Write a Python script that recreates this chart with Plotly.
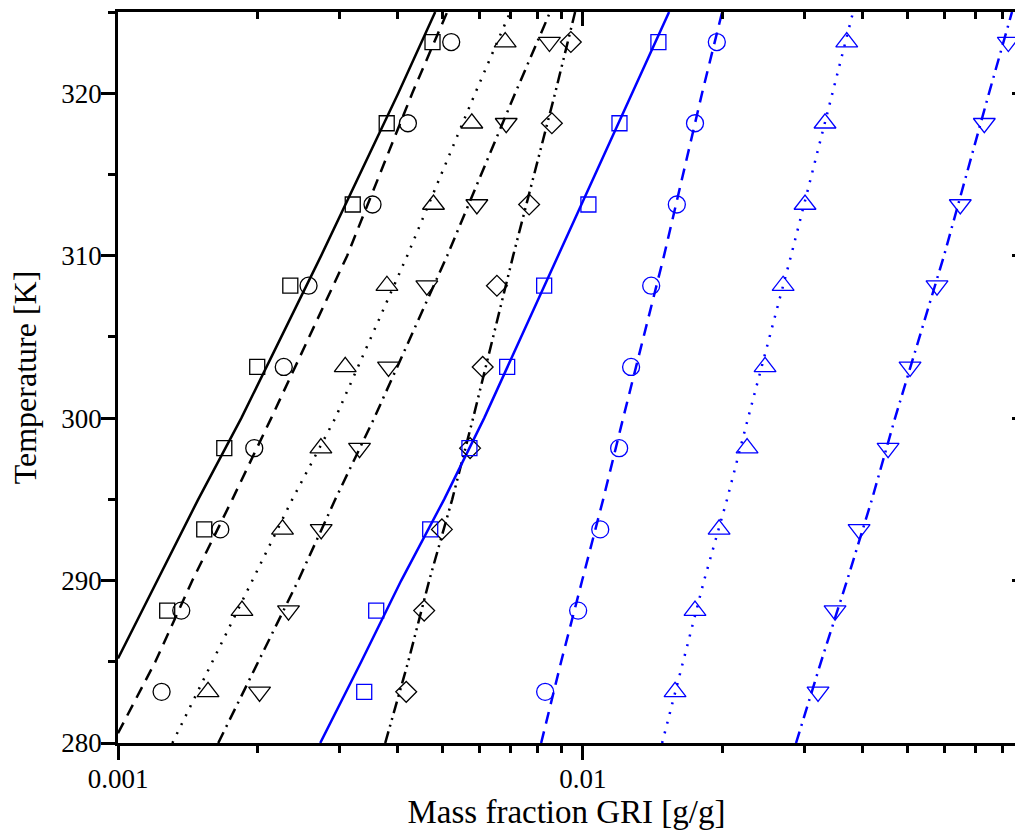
import plotly.graph_objects as go

# ---------------- data ----------------
T_exp = [283.15, 288.15, 293.15, 298.15, 303.15, 308.15, 313.15, 318.15, 323.15]

# black experimental series
blk_square = [None, 0.001276, 0.001533, 0.001693, 0.001993, 0.002348, 0.003199, 0.003785, 0.004749]
blk_circle = [0.001241, 0.001368, 0.001660, 0.001964, 0.002273, 0.002570, 0.003528, 0.004204, 0.005210]
blk_triup = [0.001562, 0.001848, 0.002259, 0.002732, 0.003082, 0.003789, 0.004772, 0.005770, 0.006807]
blk_tridn = [0.002016, 0.002327, 0.002736, 0.003308, 0.003819, 0.004618, 0.005916, 0.006841, 0.008475]
blk_diamond = [0.004169, 0.004557, 0.004975, 0.005721, 0.006089, 0.006533, 0.007664, 0.008578, 0.009423]

# blue experimental series
blu_square = [0.003386, 0.003593, 0.004695, 0.005702, 0.006874, 0.008256, 0.01028, 0.01199, 0.01454]
blu_circle = [0.008297, 0.009770, 0.01090, 0.01197, 0.01270, 0.01403, 0.01593, 0.01743, 0.01942]
blu_triup = [0.01579, 0.01743, 0.01964, 0.02256, 0.02466, 0.02697, 0.03006, 0.03319, 0.03696]
blu_tridn = [0.03206, 0.03488, 0.03929, 0.04536, 0.05057, 0.05780, 0.06486, 0.07306, 0.08229]

# model curves (temperature, mass fraction)
T_line = [280, 285, 290, 295, 300, 310, 320, 325]
blk_solid_T = [285.2, 290, 295, 300, 310, 320, 325]
blk_solid = [0.001000, 0.001215, 0.001488, 0.001842, 0.002736, 0.004008, 0.004813]
blk_dash_T = [280.6, 285, 290, 295, 300, 310, 320, 325]
blk_dash = [0.001000, 0.001203, 0.001445, 0.001762, 0.002136, 0.003112, 0.004295, 0.005108]
blk_dot = [0.001309, 0.001595, 0.001945, 0.002371, 0.002934, 0.004190, 0.005867, 0.006978]
blk_dashdot = [0.001643, 0.002003, 0.002442, 0.002934, 0.003558, 0.005108, 0.007152, 0.008504]
blk_dashdotdot = [0.003757, 0.004210, 0.004672, 0.005236, 0.005807, 0.007081, 0.008717, 0.009625]
blu_solid = [0.002723, 0.003336, 0.004067, 0.005031, 0.006134, 0.008848, 0.01276, 0.01533]
blu_dash = [0.008134, 0.008980, 0.009965, 0.01106, 0.01221, 0.01495, 0.01805, 0.01994]
blu_dot = [0.01481, 0.01643, 0.01823, 0.02043, 0.02267, 0.02805, 0.03437, 0.03814]
blu_dashdot = [0.02875, 0.03254, 0.03702, 0.04188, 0.04695, 0.05984, 0.07477, 0.08380]

x_major = [0.001, 0.01]
x_major_text = ["0.001", "0.01"]
x_minor = [0.002, 0.003, 0.004, 0.005, 0.006, 0.007, 0.008, 0.009,
           0.02, 0.03, 0.04, 0.05, 0.06, 0.07, 0.08]
y_major = [280, 290, 300, 310, 320]
y_minor = [285, 295, 305, 315, 325]

BLACK = "#000000"
BLUE = "#0000FF"
FONT = "Liberation Serif"

fig = go.Figure()

LW = 2.5
lines = [
    (blk_solid_T, blk_solid, BLACK, "solid"),
    (blk_dash_T, blk_dash, BLACK, "12px,8px"),
    (T_line, blk_dot, BLACK, "2px,8px"),
    (T_line, blk_dashdot, BLACK, "12px,6px,2px,6px"),
    (T_line, blk_dashdotdot, BLACK, "12px,5px,2px,5px,2px,5px"),
    (T_line, blu_solid, BLUE, "solid"),
    (T_line, blu_dash, BLUE, "12px,8px"),
    (T_line, blu_dot, BLUE, "2px,8px"),
    (T_line, blu_dashdot, BLUE, "12px,6px,2px,6px"),
]
for T, xv, col, dash in lines:
    fig.add_trace(go.Scatter(x=xv, y=T, mode="lines",
                             line=dict(color=col, width=LW, dash=dash),
                             showlegend=False, hoverinfo="skip"))

markers = [
    (blk_square, BLACK, "square-open", 15),
    (blk_circle, BLACK, "circle-open", 17),
    (blk_triup, BLACK, "triangle-up-open", 19),
    (blk_tridn, BLACK, "triangle-down-open", 19),
    (blk_diamond, BLACK, "diamond-open", 16),
    (blu_square, BLUE, "square-open", 15),
    (blu_circle, BLUE, "circle-open", 17),
    (blu_triup, BLUE, "triangle-up-open", 19),
    (blu_tridn, BLUE, "triangle-down-open", 19),
]
for xv, col, sym, sz in markers:
    fig.add_trace(go.Scatter(x=xv, y=T_exp, mode="markers",
                             marker=dict(symbol=sym, size=sz, color=col,
                                         line=dict(color=col, width=1.3)),
                             showlegend=False))

xr = [-3, -1.0703]
yr = [280, 325]

fig.update_layout(
    width=1015, height=830,
    margin=dict(l=118, r=0, t=12, b=87),
    paper_bgcolor="white", plot_bgcolor="white",
    font=dict(family=FONT, color="black", size=27),
    xaxis=dict(
        type="log", range=xr, showgrid=False, zeroline=False,
        showline=True, linecolor="black", linewidth=2.5,
        tickmode="array", tickvals=x_major, ticktext=x_major_text,
        ticks="outside", ticklen=14, tickwidth=2.5, tickcolor="black",
        tickfont=dict(size=27, family=FONT), ticklabelstandoff=-4,
        minor=dict(tickmode="array", tickvals=x_minor, ticks="outside",
                   ticklen=7, tickwidth=2.5, tickcolor="black", showgrid=False),
        title=dict(text="Mass fraction GRI [g/g]", font=dict(size=33, family=FONT), standoff=8),
    ),
    yaxis=dict(
        range=yr, showgrid=False, zeroline=False,
        showline=True, linecolor="black", linewidth=2.5,
        tickmode="array", tickvals=y_major,
        ticks="outside", ticklen=14, tickwidth=2.5, tickcolor="black",
        tickfont=dict(size=27, family=FONT), ticklabelstandoff=-6,
        minor=dict(tickmode="array", tickvals=y_minor, ticks="outside",
                   ticklen=7, tickwidth=2.5, tickcolor="black", showgrid=False),
        title=dict(text="Temperature [K]", font=dict(size=32, family=FONT), standoff=16),
    ),
    xaxis2=dict(
        type="log", range=xr, overlaying="x", side="top", anchor="y",
        showgrid=False, zeroline=False, showticklabels=False,
        showline=True, linecolor="black", linewidth=2.5,
        tickmode="array", tickvals=x_major,
        ticks="inside", ticklen=14, tickwidth=2.5, tickcolor="black",
        minor=dict(tickmode="array", tickvals=x_minor, ticks="inside",
                   ticklen=7, tickwidth=2.5, tickcolor="black", showgrid=False),
    ),
    yaxis2=dict(
        range=yr, overlaying="y", side="right", anchor="x",
        showgrid=False, zeroline=False, showticklabels=False, showline=False,
        tickmode="array", tickvals=y_major,
        ticks="inside", ticklen=3, tickwidth=2.5, tickcolor="black",
    ),
)
# invisible trace to activate overlay axes
fig.add_trace(go.Scatter(x=[0.001], y=[280], xaxis="x2", yaxis="y2", mode="markers",
                         marker=dict(opacity=0), showlegend=False, hoverinfo="skip"))

fig.write_html("out.html")
